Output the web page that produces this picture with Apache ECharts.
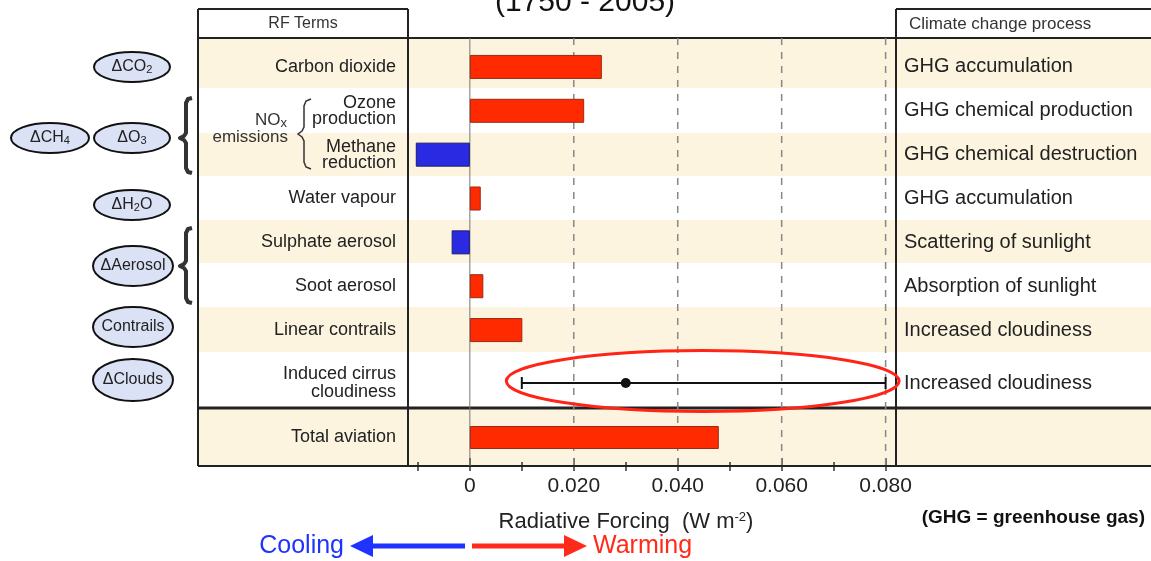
<!DOCTYPE html>
<html>
<head>
<meta charset="utf-8">
<script src="https://cdn.jsdelivr.net/npm/echarts@6/dist/echarts.min.js"></script>
<style>
  html, body { margin: 0; padding: 0; background: #fff; }
  #chart { width: 1151px; height: 561px; }
</style>
</head>
<body>
<div id="chart"></div>
<script>
// Aviation radiative forcing terms, 1750 - 2005 (W m-2)
const rfTerms = ['Carbon dioxide', 'Ozone\nproduction', 'Methane\nreduction', 'Water vapour',
                 'Sulphate aerosol', 'Soot aerosol', 'Linear contrails'];
const processes = ['GHG accumulation', 'GHG chemical production', 'GHG chemical destruction',
                   'GHG accumulation', 'Scattering of sunlight', 'Absorption of sunlight',
                   'Increased cloudiness'];
const forcing = [0.0254, 0.0220, -0.0104, 0.0021, -0.0035, 0.0026, 0.0101];

const cirrusTerm = ['Induced cirrus\ncloudiness'];
const cirrusProcess = ['Increased cloudiness'];
const cirrusBest = 0.030;
const cirrusLow = 0.010;
const cirrusHigh = 0.080;

const totalTerm = ['Total aviation'];
const totalForcing = [0.0479];

const tickValues = [-0.01, 0, 0.01, 0.02, 0.03, 0.04, 0.05, 0.06, 0.07, 0.08];
const majorTickValues = [0, 0.02, 0.04, 0.06, 0.08];
const tickLabels = ['0', '0.020', '0.040', '0.060', '0.080'];

const bubbleLabels = ['{t|ΔCO}{s|2}', '{t|ΔCH}{s|4}', '{t|ΔO}{s|3}', '{t|ΔH}{s|2}{t|O}',
                      '{t|ΔAerosol}', '{t|Contrails}', '{t|ΔClouds}'];

const X_MIN = -0.0119, X_MAX = 0.082;
const FONT = '"Liberation Sans", Arial, Helvetica, sans-serif';
const INK = '#222';
const BEIGE = '#fcf4df';
const WARM = '#ff2a00', WARM_EDGE = '#9a2a14';
const COOL = '#2a2ae2', COOL_EDGE = '#1c1c6a';

const chart = echarts.init(document.getElementById('chart'), null, { renderer: 'canvas', width: 1151, height: 561 });

function hline(y, x1, x2, w) {
  return { type: 'line', z: 1, silent: true, shape: { x1: x1, y1: y, x2: x2, y2: y }, style: { stroke: INK, lineWidth: w } };
}
function vline(x, y1, y2, w) {
  return { type: 'line', z: 1, silent: true, shape: { x1: x, y1: y1, x2: x, y2: y2 }, style: { stroke: INK, lineWidth: w } };
}
function label(x, y, str, o) {
  return { type: 'text', z: 5, silent: true, x: x, y: y,
    style: Object.assign({ text: str, fill: INK, fontFamily: FONT, fontSize: 16, align: 'left', verticalAlign: 'middle' }, o || {}) };
}

const graphics = [];

// alternating row shading across the table
[[38, 88], [133, 176], [220, 263], [307, 352], [408, 466]].forEach(function (b) {
  graphics.push({ type: 'rect', z: -10, silent: true, shape: { x: 198, y: b[0], width: 953, height: b[1] - b[0] }, style: { fill: BEIGE } });
});

// table frame
graphics.push(
  hline(9, 198, 408, 2), hline(9, 896, 1151, 2),
  hline(38, 198, 1151, 2), hline(408, 198, 1151, 3), hline(466, 198, 1151, 2),
  vline(198, 9, 466, 2), vline(408, 9, 466, 2), vline(896, 9, 466, 2)
);

// headers and title
graphics.push(
  label(303, 24, 'RF Terms', { align: 'center', fontSize: 16, fill: '#333' }),
  label(909, 24, 'Climate change process', { fontSize: 17, fill: '#333' }),
  label(585, 3, '(1750 - 2005)', { align: 'center', fontSize: 30, fill: '#111' })
);

// NOx emissions group with its brace
graphics.push(
  label(287, 120, '{a|NO}{b|x}', { align: 'right', rich: {
    a: { fontSize: 17, fontFamily: FONT, fill: '#333' },
    b: { fontSize: 13, fontFamily: FONT, fill: '#333', verticalAlign: 'bottom', padding: [6, 0, 0, 0] } } }),
  label(288, 137, 'emissions', { align: 'right', fontSize: 17, fill: '#333' }),
  { type: 'polyline', z: 5, silent: true,
    shape: { points: [[311, 99], [306, 101], [304, 106], [304, 127], [302, 131], [298, 134], [302, 137], [304, 141], [304, 162], [306, 167], [311, 169]] },
    style: { stroke: '#333', lineWidth: 1.5, fill: null } }
);

// driver bubbles left of the table
const bubbleSpots = [[132, 67, 38, 15], [50, 138, 39, 15], [132, 138, 38, 15], [132, 205, 38, 15],
                     [133, 266, 40, 20], [133, 327, 40, 20], [133, 380, 40, 21]];
bubbleLabels.forEach(function (t, i) {
  const s = bubbleSpots[i];
  graphics.push({ type: 'ellipse', z: 4, silent: true, shape: { cx: s[0], cy: s[1], rx: s[2], ry: s[3] },
    style: { fill: '#dce2f6', stroke: '#111', lineWidth: 2 } });
  graphics.push(label(s[0], s[1], t, { align: 'center', rich: {
    t: { fontSize: 16, fontFamily: FONT, fill: '#222' },
    s: { fontSize: 11, fontFamily: FONT, fill: '#222', verticalAlign: 'bottom', padding: [5, 0, 0, 0] } } }));
});

// brackets joining bubbles to rows
function bracket(yTop, yMid, yBot) {
  return { type: 'polyline', z: 4, silent: true,
    shape: { points: [[192, yTop], [188, yTop + 1], [186, yTop + 5], [186, yMid - 5], [184, yMid - 2], [180, yMid], [184, yMid + 2], [186, yMid + 5], [186, yBot - 5], [188, yBot - 1], [192, yBot]] },
    style: { stroke: '#333', lineWidth: 4, fill: null, lineJoin: 'round' } };
}
graphics.push(bracket(98, 138, 173), bracket(228, 266, 303));

// note
graphics.push(label(1145, 518, '(GHG = greenhouse gas)', { align: 'right', fontSize: 19, fontWeight: 'bold', fill: '#111' }));

// cooling / warming arrows
graphics.push(
  { type: 'line', z: 5, silent: true, shape: { x1: 370, y1: 546, x2: 465, y2: 546 }, style: { stroke: '#1f33ff', lineWidth: 5 } },
  { type: 'polygon', z: 5, silent: true, shape: { points: [[350, 546], [373, 535], [373, 557]] }, style: { fill: '#1f33ff' } },
  label(344, 546, 'Cooling', { align: 'right', fontSize: 25, fill: '#1f33ff' }),
  { type: 'line', z: 5, silent: true, shape: { x1: 472, y1: 546, x2: 566, y2: 546 }, style: { stroke: '#ff2a1a', lineWidth: 5 } },
  { type: 'polygon', z: 5, silent: true, shape: { points: [[587, 546], [564, 535], [564, 557]] }, style: { fill: '#ff2a1a' } },
  label(593, 546, 'Warming', { fontSize: 25, fill: '#ff2a1a' })
);

const xBase = { type: 'value', min: X_MIN, max: X_MAX, splitLine: { show: false }, axisLine: { show: false } };
const tickStyle = { color: '#333', width: 1.5 };

function tickLabel(v) {
  const i = majorTickValues.findIndex(function (t) { return Math.abs(t - v) < 1e-9; });
  return i >= 0 ? tickLabels[i] : '';
}

const catAxis = function (grid, data, side, extra) {
  return Object.assign({
    type: 'category', gridIndex: grid, data: data, inverse: true, position: side,
    axisLine: { show: false }, axisTick: { show: false }, splitLine: { show: false },
  }, extra);
};

const gridBox = { left: 408, width: 488, containLabel: false, outerBoundsMode: 'none' };

const option = {
  backgroundColor: '#fff',
  animation: false,
  textStyle: { fontFamily: FONT },
  grid: [
    Object.assign({ top: 38, height: 428 }, gridBox),
    Object.assign({ top: 45, height: 307 }, gridBox),
    Object.assign({ top: 355, height: 56 }, gridBox),
    Object.assign({ top: 410, height: 55 }, gridBox)
  ],
  xAxis: [
    Object.assign({}, xBase, { gridIndex: 0, position: 'top',
      axisTick: { show: true, inside: true, length: 5, customValues: tickValues, lineStyle: tickStyle },
      axisLabel: { show: false } }),
    Object.assign({}, xBase, { gridIndex: 0, position: 'bottom',
      axisTick: { show: true, inside: true, length: 4, customValues: tickValues, lineStyle: tickStyle },
      axisLabel: { show: true, customValues: majorTickValues, formatter: tickLabel, fontSize: 21, color: '#222', margin: 10 },
      name: '{n|Radiative Forcing  (W m}{s|-2}{n|)}',
      nameLocation: 'middle', nameGap: 45,
      nameTextStyle: { padding: [0, 52, 0, 0], rich: {
        n: { fontSize: 22, color: '#222', fontFamily: FONT },
        s: { fontSize: 13, color: '#222', fontFamily: FONT, verticalAlign: 'top' } } } }),
    Object.assign({}, xBase, { gridIndex: 0, position: 'bottom',
      axisTick: { show: true, inside: true, length: 8, customValues: majorTickValues, lineStyle: tickStyle },
      axisLabel: { show: false } }),
    Object.assign({}, xBase, { gridIndex: 1, show: false }),
    Object.assign({}, xBase, { gridIndex: 2, show: false }),
    Object.assign({}, xBase, { gridIndex: 3, show: false })
  ],
  yAxis: [
    { type: 'value', gridIndex: 0, min: 0, max: 1, show: false },
    catAxis(1, rfTerms, 'left', { axisLabel: { interval: 0, fontSize: 18, lineHeight: 16, color: '#222', margin: 12 } }),
    catAxis(1, processes, 'right', { axisLabel: { interval: 0, fontSize: 20, color: '#222', margin: 8 } }),
    catAxis(2, cirrusTerm, 'left', { axisLabel: { interval: 0, fontSize: 18, lineHeight: 18, color: '#222', margin: 12 } }),
    catAxis(2, cirrusProcess, 'right', { axisLabel: { interval: 0, fontSize: 20, color: '#222', margin: 8 } }),
    catAxis(3, totalTerm, 'left', { axisLabel: { interval: 0, fontSize: 18, color: '#222', margin: 12 } })
  ],
  series: [
    { // zero line and dashed reference lines over the whole table height
      type: 'custom', xAxisIndex: 0, yAxisIndex: 0, silent: true, z: 1,
      data: majorTickValues.map(function (v) { return [v]; }),
      encode: { x: 0 },
      renderItem: function (params, api) {
        const v = api.value(0);
        const x = api.coord([v, 0])[0];
        const cs = params.coordSys;
        return { type: 'line', shape: { x1: x, y1: cs.y, x2: x, y2: cs.y + cs.height },
          style: v === 0 ? { stroke: '#777', lineWidth: 1 } : { stroke: '#888', lineWidth: 1.5, lineDash: [7, 7] } };
      }
    },
    {
      type: 'bar', xAxisIndex: 3, yAxisIndex: 1, barWidth: 24,
      data: forcing.map(function (v) {
        return { value: v, itemStyle: { color: v >= 0 ? WARM : COOL, borderColor: v >= 0 ? WARM_EDGE : COOL_EDGE, borderWidth: 1 } };
      })
    },
    { // cirrus best estimate with its range, ringed
      type: 'custom', xAxisIndex: 4, yAxisIndex: 3, silent: true, z: 3, clip: false,
      data: [[cirrusLow, cirrusHigh, cirrusBest, 0]],
      encode: { x: [0, 1, 2], y: 3 },
      renderItem: function (params, api) {
        const row = api.value(3);
        const p1 = api.coord([api.value(0), row]);
        const p2 = api.coord([api.value(1), row]);
        const pb = api.coord([api.value(2), row]);
        const y = p1[1];
        return { type: 'group', children: [
          { type: 'line', shape: { x1: p1[0], y1: y, x2: p2[0], y2: y }, style: { stroke: '#111', lineWidth: 2 } },
          { type: 'line', shape: { x1: p1[0], y1: y - 6, x2: p1[0], y2: y + 6 }, style: { stroke: '#111', lineWidth: 2 } },
          { type: 'line', shape: { x1: p2[0], y1: y - 6, x2: p2[0], y2: y + 6 }, style: { stroke: '#111', lineWidth: 2 } },
          { type: 'circle', shape: { cx: pb[0], cy: y, r: 5 }, style: { fill: '#111' } },
          { type: 'ellipse', shape: { cx: (p1[0] + p2[0]) / 2 - 1, cy: y - 2, rx: (p2[0] - p1[0]) / 2 + 14.5, ry: 30.5 },
            style: { fill: null, stroke: '#ff2415', lineWidth: 3 } }
        ] };
      }
    },
    {
      type: 'bar', xAxisIndex: 5, yAxisIndex: 5, barWidth: 23,
      data: totalForcing.map(function (v) {
        return { value: v, itemStyle: { color: WARM, borderColor: WARM_EDGE, borderWidth: 1 } };
      })
    }
  ],
  graphic: { elements: graphics }
};

chart.setOption(option);
</script>
</body>
</html>
